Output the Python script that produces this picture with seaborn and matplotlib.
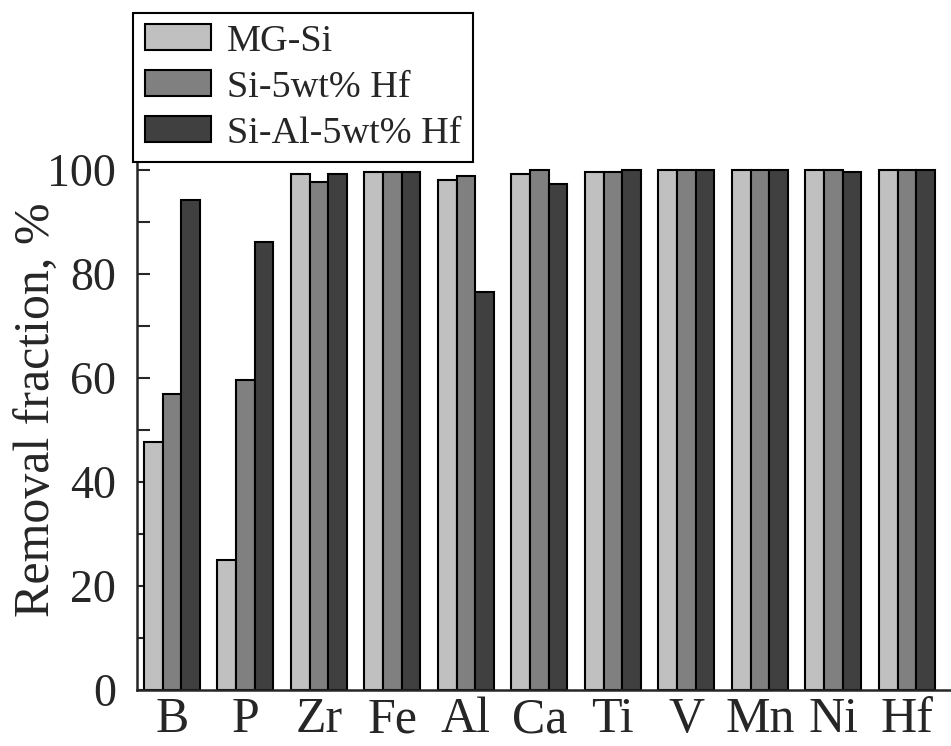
import pandas as pd
import seaborn as sns
import matplotlib.pyplot as plt
from matplotlib.ticker import MultipleLocator

elements = ['B', 'P', 'Zr', 'Fe', 'Al', 'Ca', 'Ti', 'V', 'Mn', 'Ni', 'Hf']
series = ['MG-Si', 'Si-5wt% Hf', 'Si-Al-5wt% Hf']
mg_si = [47.6, 25.0, 99.2, 99.6, 98.0, 99.2, 99.6, 99.9, 99.9, 99.9, 99.9]
si_hf = [56.9, 59.6, 97.6, 99.6, 98.8, 99.9, 99.6, 99.9, 99.9, 99.9, 99.9]
si_al_hf = [94.2, 86.2, 99.2, 99.6, 76.5, 97.3, 99.9, 99.9, 99.9, 99.6, 99.9]
colors = ['#c0c0c0', '#808080', '#404040']

df = pd.DataFrame({
    'element': elements * 3,
    'sample': [s for s in series for _ in elements],
    'value': mg_si + si_hf + si_al_hf,
})

sns.set_style('ticks')
plt.rcParams['font.family'] = ['Liberation Serif', 'DejaVu Serif']

fig = plt.figure(figsize=(9.51, 7.46), dpi=100)
ax = fig.add_axes([0.144, 0.075, 0.856, 0.767])

sns.barplot(data=df, x='element', y='value', hue='sample', order=elements,
            hue_order=series, palette=colors, width=0.76, edgecolor='black',
            linewidth=1.5, saturation=1, ax=ax)

ax.set_xlim(-0.475, 10.6)
ax.set_ylim(0, 110)
ax.yaxis.set_major_locator(MultipleLocator(20))
ax.yaxis.set_minor_locator(MultipleLocator(10))
ax.tick_params(axis='y', which='both', direction='in', length=9, width=1.5,
               labelsize=33, pad=15)
ax.tick_params(axis='x', length=0, labelsize=36, pad=5)
ax.set_xlabel('')
ax.set_ylabel('Removal fraction, %', fontsize=36)
ax.yaxis.set_label_coords(-0.094, 0.49)
for side in ['top', 'right']:
    ax.spines[side].set_visible(False)
for side in ['left', 'bottom']:
    ax.spines[side].set_linewidth(1.8)

ax.legend(loc='upper left', bbox_to_anchor=(0.14, 0.983),
          bbox_transform=fig.transFigure, fontsize=27.5, frameon=True,
          fancybox=False, edgecolor='black', framealpha=1,
          handlelength=1.75, handleheight=0.66, labelspacing=0.3,
          borderpad=0.3, handletextpad=0.4, borderaxespad=0)
ax.get_legend().get_frame().set_linewidth(1.5)

plt.savefig('out.png', dpi=100)
